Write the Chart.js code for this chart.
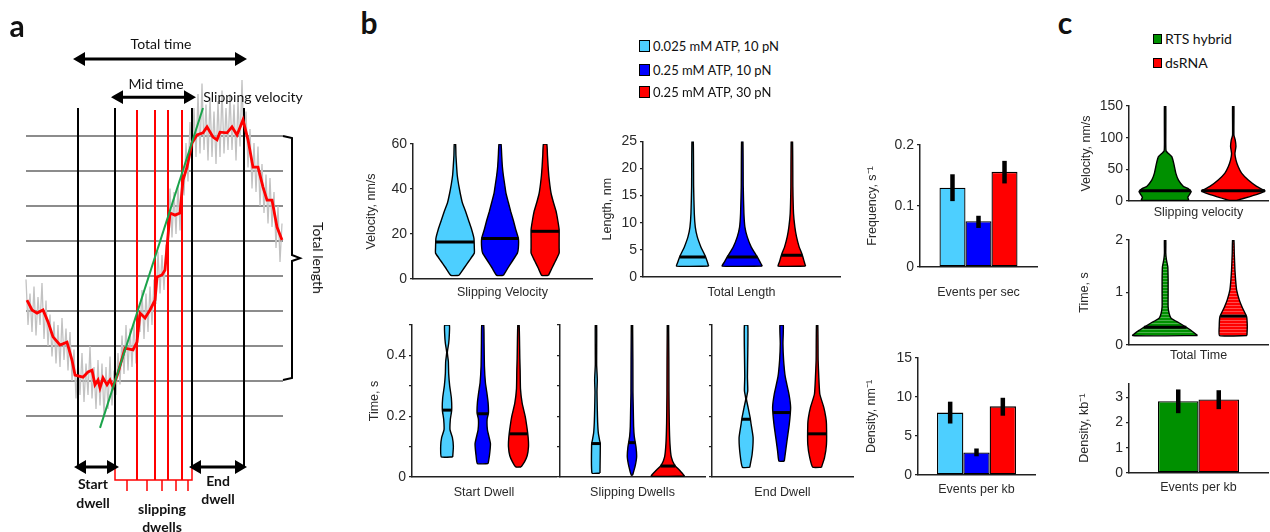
<!DOCTYPE html>
<html>
<head>
<meta charset="utf-8">
<script src="https://cdn.jsdelivr.net/npm/chart.js@4.4.1/dist/chart.umd.min.js"></script>
<style>
body{margin:0;background:#fff;}
#page{position:relative;width:1270px;height:532px;overflow:hidden;font-family:Lato,"Open Sans",sans-serif;color:#111;}
.cv{position:absolute;}
.t{position:absolute;white-space:nowrap;transform:translate(-50%,-50%);font-size:14px;line-height:1;}
.b{font-weight:bold;}
.pl{position:absolute;font:bold 30px Lato,sans-serif;line-height:1;transform:translate(-50%,-50%);}
.leg{position:absolute;white-space:nowrap;line-height:1;transform:translateY(-50%);}
.sq{position:absolute;border:1px solid #000;box-sizing:border-box;}
</style>
</head>
<body>
<div id="page"></div>
<script>
// ---------- groups ----------
const B_GROUPS = ['0.025 mM ATP, 10 pN', '0.25 mM ATP, 10 pN', '0.25 mM ATP, 30 pN'];
const B_COLORS = ['#4dcfff', '#0000ff', '#ff0000'];
const C_GROUPS = ['RTS hybrid', 'dsRNA'];
const C_COLORS = ['#009000', '#ff0000'];

// ---------- panel a (schematic trace), time vs length level ----------
const LEVELS = [0, 1, 2, 3, 4, 5, 6, 7, 8];
const BLACK_T = [52, 89, 166, 218];
const RED_T = [111, 129, 142, 156];
const TRACE_T = [1,6,11,17,22,27,34,41,46,49,57,62,66,69,72,74,77,81,84,87,92,99,107,111,114,119,124,129,131,136,139,141,144,149,154,157,161,166,171,177,181,187,191,194,201,206,211,217,222,227,232,237,241,246,251,256];
const TRACE_L = [3.31,3.03,2.94,3.03,2.69,2.26,2.03,2.11,1.6,1.17,1.11,1.26,1.31,0.89,1.03,0.8,1.09,0.89,1.03,0.83,1.23,1.94,1.89,2.11,2.94,2.8,3.03,3.31,3.97,4.03,4.17,4.83,5.8,5.74,5.8,6.74,7.11,7.8,8.03,8.09,8.26,7.97,7.89,8.11,8.09,8.26,8.03,8.46,7.89,7.11,7.11,6.54,6.17,6.17,5.4,5.03];
// raw (unfiltered) signal, sampled every RAW_DT
const RAW_DT = 2;
const RAW_L = [3.9,2.6,3.5,2.4,3.7,2.3,3.4,2.6,3.8,2.2, 3.3,2.0,2.9,1.7,2.7,1.5,2.6,1.4,2.8,1.6,
  2.5,1.3,2.4,1.0,1.9,0.5,1.6,0.6,1.8,0.4, 1.5,0.6,2.0,0.5,1.4,0.2,1.6,0.3,1.5,0.0,
  1.4,0.2,1.7,0.3,1.3,0.6,1.8,0.9,2.3,1.2, 2.6,1.3,2.5,1.4,2.7,1.5,2.9,2.4,3.6,2.2,
  3.5,2.4,3.7,2.6,3.9,3.2,4.7,3.5,4.6,3.6, 4.9,4.5,6.5,5.1,6.4,5.2,6.6,5.3,7.2,6.3,
  7.8,6.7,8.4,7.2,8.8,7.4,9.2,7.5,9.5,7.6, 8.9,7.3,9.1,7.4,8.7,7.2,9.0,7.4,9.3,7.5,
  8.8,7.6,9.2,7.6,8.9,7.3,9.0,7.7,9.6,7.6, 8.7,7.1,8.2,6.5,7.8,6.4,7.7,6.0,7.2,5.8,
  6.9,5.5,6.8,5.4,6.4,4.8,6.0,4.4,5.5];
const FIT_T = [74, 177];
const FIT_L = [-0.34, 8.8];
const ARROWS = [[51, 217, 10.2], [89, 166, 9.11], [52, 89, -1.457], [167, 217, -1.457]];
const BRACKET_T = [257, 266, 266, 274, 266, 266, 257];
const BRACKET_L = [8.0, 7.94, 4.6, 4.51, 4.43, 1.09, 1.03];
const COMB_TICKS = [101, 121, 136, 150, 162];

// ---------- panel b violins: [value, half width] ----------
const SV_SHAPES = [
  [[1.6,12],[5,28],[8,42],[11.5,58],[14,58],[18,57],[22,50],[26,41],[30,32],[34,22],[38,16],[42,11],[46,7],[50,5],[55,3],[60,2]],
  [[1.6,10],[5,24],[8,37],[11.5,52],[14,55],[18,55],[22,47],[26,40],[30,32],[34,25],[38,18],[42,14],[46,10],[50,7],[55,5],[60,3]],
  [[1.6,10],[5,21],[8,31],[11.5,42],[14,42],[18,42],[22,42],[26,38],[30,33],[34,25],[38,18],[42,14],[46,11],[50,9],[55,7],[60,5]]
];
const SV_MED = [16.5, 18, 21.2];
const SV_TICKS = [0, 20, 40, 60];

const TL_SHAPES = [
  [[2,48],[2.8,44],[3.7,39],[4.6,32],[5.5,25],[7.4,14],[9.2,8],[11.7,5],[16.6,3],[25,2]],
  [[2,60],[2.8,53],[3.7,45],[4.6,36],[5.5,27],[7.4,15],[9.2,8],[11.7,5],[16.6,3],[25,2]],
  [[2,41],[2.8,37],[3.7,33],[4.6,28],[5.5,22],[7.4,14],[9.2,9],[11.7,5],[16.6,3],[25,2]]
];
const TL_MED = [3.7, 3.7, 4.0];
const TL_TICKS = [0, 5, 10, 15, 20, 25];

const SD_SHAPES = [
  [[0.066,17],[0.1,19],[0.13,16],[0.155,9],[0.19,10],[0.22,14],[0.26,13],[0.3,8],[0.34,5],[0.38,4],[0.41,1],[0.44,5],[0.47,7],[0.5,7]],
  [[0.044,16],[0.07,20],[0.11,23],[0.155,14],[0.19,13],[0.21,17],[0.245,16],[0.28,12],[0.31,8],[0.365,5],[0.44,4],[0.5,3]],
  [[0.033,8],[0.05,18],[0.07,26],[0.1,30],[0.13,29],[0.166,25],[0.2,20],[0.243,11],[0.29,6],[0.35,5],[0.39,4],[0.5,2]]
];
const SD_MED = [0.22, 0.208, 0.142];

const SL_SHAPES = [
  [[0.013,12],[0.11,13],[0.12,11],[0.145,7],[0.18,5],[0.22,4],[0.28,3],[0.32,4],[0.37,2],[0.5,2]],
  [[0.006,2],[0.033,9],[0.066,14],[0.1,12],[0.133,7],[0.166,5],[0.22,4],[0.276,3],[0.5,2]],
  [[0.003,50],[0.022,35],[0.039,20],[0.066,10],[0.11,6],[0.177,4],[0.276,3],[0.5,2]]
];
const SL_MED = [0.11, 0.113, 0.036];

const ED_SHAPES = [
  [[0.032,11],[0.074,18],[0.13,21],[0.174,15],[0.196,12],[0.229,6],[0.257,1],[0.284,5],[0.33,4],[0.406,5],[0.5,5]],
  [[0.052,8],[0.085,12],[0.118,16],[0.174,23],[0.229,27],[0.273,22],[0.329,11],[0.384,6],[0.439,4],[0.5,5]],
  [[0.032,13],[0.063,22],[0.107,28],[0.174,28],[0.196,26],[0.229,20],[0.273,8],[0.329,5],[0.384,3],[0.5,2]]
];
const ED_MED = [0.19, 0.212, 0.142];
const DW_TICKS = [0, 0.1, 0.2, 0.3, 0.4, 0.5];
const DW_LABELS = ['0', '', '0.2', '', '0.4', ''];
const DW_BLANK = ['', '', '', '', '', ''];

// ---------- panel b bars ----------
const EPS_VAL = [0.130, 0.075, 0.156];
const EPS_LO = [0.108, 0.064, 0.137];
const EPS_HI = [0.152, 0.084, 0.174];
const EPS_TICKS = [0, 0.1, 0.2];
const EPK_VAL = [8.0, 2.9, 8.8];
const EPK_LO = [6.6, 2.4, 7.6];
const EPK_HI = [9.4, 3.4, 9.9];
const EPK_TICKS = [0, 5, 10, 15];

// ---------- panel c ----------
const CV_SHAPES = [
  [[1,71],[6,68],[11,74],[15,78],[20,68],[23,55],[33,40],[44,32],[59,26],[70,20],[75,10],[79,3],[90,2],[150,2]],
  [[1,10],[7,50],[12,80],[16,95],[23,70],[33,45],[44,25],[54,15],[65,8],[75,5],[86,8],[96,6],[104,2],[150,2]]
];
const CV_MED = [16, 16];
const CV_TICKS = [0, 50, 100, 150];
const CT_SHAPES = [
  [[0.18,97],[0.29,75],[0.41,45],[0.51,18],[0.6,12],[0.73,9],[0.98,9],[1.24,9],[1.49,8],[1.62,4],[1.75,2],[2,2]],
  [[0.18,41],[0.35,42],[0.54,40],[0.7,28],[0.86,18],[1.05,10],[1.24,7],[1.43,5],[1.75,3],[2,2]]
];
const CT_MED = [0.336, 0.55];
const CT_TICKS = [0, 1, 2];
const CK_VAL = [2.84, 2.91];
const CK_LO = [2.37, 2.53];
const CK_HI = [3.31, 3.28];
const CK_TICKS = [0, 1, 2, 3];

// ---------- setup ----------
Chart.defaults.animation = false;
Chart.defaults.responsive = false;
Chart.defaults.devicePixelRatio = 1;
Chart.defaults.events = [];
Chart.defaults.layout.autoPadding = false;
Chart.defaults.plugins.legend.display = false;
Chart.defaults.plugins.tooltip.enabled = false;
Chart.defaults.font.family = '"Liberation Sans", Arial, sans-serif';
Chart.defaults.elements.point.radius = 0;

const page = document.getElementById('page');
const AXIS = '#222', TXT = '#2a2a2a', TICK_SIZE = 14, TITLE_SIZE = 12.5;

function canvasAt(box){
  const c = document.createElement('canvas');
  c.className = 'cv';
  c.width = box[2]-box[0]; c.height = box[3]-box[1];
  c.style.left = box[0]+'px'; c.style.top = box[1]+'px';
  page.appendChild(c);
  return c;
}

const errBars = {
  id:'errBars',
  afterDatasetsDraw(chart){
    const {ctx, scales:{y}} = chart;
    chart.data.datasets.forEach((ds,i)=>{
      if(!ds.lo) return;
      chart.getDatasetMeta(i).data.forEach((bar,j)=>{
        ctx.save(); ctx.strokeStyle='#000'; ctx.lineWidth=4.5; ctx.lineCap='butt';
        ctx.beginPath();
        ctx.moveTo(bar.x, y.getPixelForValue(ds.lo[j]));
        ctx.lineTo(bar.x, y.getPixelForValue(ds.hi[j]));
        ctx.stroke(); ctx.restore();
      });
    });
  }
};

// box / area = [left, top, right, bottom] in page pixels
function makeChart(box, area, o, type, labels, datasets, plugins){
  const lh = TITLE_SIZE*1.2;
  const x = o.cat ? {type:'category'} : {type:'linear', min:o.xr[0], max:o.xr[1]};
  Object.assign(x, {
    ticks:{display:false}, grid:{display:false},
    border:{display:true, color:AXIS, width:1.5},
    title:{display:true, text:o.xTitle, color:TXT, font:{size:TITLE_SIZE}, padding:{top:0, bottom:box[3]-o.xTitleY-lh/2}},
    afterFit(s){ s.height = box[3]-area[3]; }
  });
  const y = {
    type:'linear', min:o.yr[0], max:o.yr[1],
    afterBuildTicks(s){ s.ticks = o.ticks.map(v=>({value:v})); },
    ticks:{color:TXT, font:{size:TICK_SIZE}, padding:3, callback:(v,i)=> o.tickLabels ? o.tickLabels[i] : String(v)},
    grid:{display:true, drawOnChartArea:false, drawTicks:true, tickLength:3, color:AXIS, lineWidth:1.2},
    border:{display:true, color:AXIS, width:1.5},
    title:{display:!!o.yTitle, text:o.yTitle||'', color:TXT, font:{size:TITLE_SIZE}, padding:{top:o.yTitleX ? o.yTitleX-box[0]-lh/2 : 0, bottom:0}},
    afterFit(s){ s.width = area[0]-box[0]; }
  };
  return new Chart(canvasAt(box), {
    type, data:{labels, datasets},
    options:{layout:{padding:{left:0, top:area[1]-box[1], right:box[2]-area[2], bottom:0}}, scales:{x, y}},
    plugins: plugins || []
  });
}

function halfAt(sh, v){
  for(let k=1;k<sh.length;k++){
    if(v<=sh[k][0]){ const [v0,w0]=sh[k-1], [v1,w1]=sh[k]; return w0+(w1-w0)*(v-v0)/(v1-v0); }
  }
  return sh[sh.length-1][1];
}

function violins(shapes, medians, fills, wk){
  const sets = [];
  shapes.forEach((sh,i)=>{
    const c = i+1;
    const right = sh.map(([v,w])=>({x:c+w*wk, y:v}));
    const left = sh.slice().reverse().map(([v,w])=>({x:c-w*wk, y:v}));
    sets.push({data:right.concat(left,[right[0]]), borderColor:'#000', borderWidth:1.4,
      backgroundColor:fills[i], fill:'shape', tension:0.15, order:2});
    const hw = halfAt(sh, medians[i])*wk;
    sets.push({data:[{x:c-hw,y:medians[i]},{x:c+hw,y:medians[i]}], borderColor:'#000', borderWidth:3, fill:false, order:1});
  });
  return sets;
}

function bars(values, lo, hi, colors){
  return values.map((v,i)=>({data:[v], backgroundColor:colors[i], borderColor:'#000', borderWidth:1.3,
    borderSkipped:false, categoryPercentage:1, barPercentage:1, lo:[lo[i]], hi:[hi[i]]}));
}

function stripes(color){
  const p = document.createElement('canvas'); p.width = 4; p.height = 3;
  const g = p.getContext('2d');
  g.fillStyle = color; g.fillRect(0,0,4,3);
  g.fillStyle = 'rgba(255,255,255,0.3)'; g.fillRect(0,2,4,1);
  return g.createPattern(p, 'repeat');
}

// ---------- panel a ----------
(function(){
  const sets = [];
  const line = (pts, color, w, order, extra)=>sets.push(Object.assign({data:pts, borderColor:color, borderWidth:w, fill:false, order}, extra||{}));
  LEVELS.forEach(L=>line([{x:0,y:L},{x:257,y:L}], '#8c8c8c', 2, 10));
  line(RAW_L.map((L,i)=>({x:i*RAW_DT, y:L})), '#c2c2c2', 1.3, 8);
  BLACK_T.forEach(t=>line([{x:t,y:-1.457},{x:t,y:8.8}], '#000', 2, 6));
  RED_T.forEach(t=>line([{x:t,y:-1.83},{x:t,y:8.74}], '#ff0000', 2, 6));
  line([{x:89,y:-1.457},{x:89,y:-1.83},{x:166,y:-1.83},{x:166,y:-1.457}], '#ff0000', 1.5, 6);
  COMB_TICKS.forEach(t=>line([{x:t,y:-1.83},{x:t,y:-2.14}], '#ff0000', 1.5, 6));
  line(TRACE_T.map((t,i)=>({x:t, y:TRACE_L[i]})), '#ff0000', 2.8, 4);
  line(FIT_T.map((t,i)=>({x:t, y:FIT_L[i]})), '#1aa34a', 2, 2);
  line(BRACKET_T.map((t,i)=>({x:t, y:BRACKET_L[i]})), '#000', 2, 2);
  ARROWS.forEach(([t0,t1,L])=>line([{x:t0+4,y:L},{x:t1-4,y:L}], '#000', 3, 1,
    {pointRadius:5, pointStyle:'triangle', pointRotation:[-90,90], pointBackgroundColor:'#000', pointBorderColor:'#000'}));
  new Chart(canvasAt([0,0,340,532]), {
    type:'line', data:{datasets:sets},
    options:{layout:{padding:0, autoPadding:false}, clip:false, scales:{
      x:{type:'linear', display:false, min:-26, max:314},
      y:{type:'linear', display:false, min:-3.314, max:11.886}}}
  });
})();

// ---------- panel b ----------
makeChart([350,130,597,305],[413,144,592,279],
  {xr:[0.07,4.04], yr:[0,60], ticks:SV_TICKS, yTitle:'Velocity, nm/s', yTitleX:372, xTitle:'Slipping Velocity', xTitleY:293},
  'line', [], violins(SV_SHAPES, SV_MED, B_COLORS, 1/135));
makeChart([597,130,845,305],[643,141,840,277],
  {xr:[0,3.97], yr:[0,25], ticks:TL_TICKS, yTitle:'Length, nm', yTitleX:608, xTitle:'Total Length', xTitleY:293},
  'line', [], violins(TL_SHAPES, TL_MED, B_COLORS, 1/148.5));
makeChart([850,130,1045,305],[920,145,1037,267],
  {cat:true, yr:[0,0.2], ticks:EPS_TICKS, yTitle:'Frequency, s⁻¹', yTitleX:873, xTitle:'Events per sec', xTitleY:293},
  'bar', [''], bars(EPS_VAL, EPS_LO, EPS_HI, B_COLORS).map(d=>Object.assign(d,{categoryPercentage:0.667})), [errBars]);
makeChart([355,312,558,505],[412,325,556,477],
  {xr:[0.02,4.05], yr:[0,0.5], ticks:DW_TICKS, tickLabels:DW_LABELS, yTitle:'Time, s', yTitleX:375, xTitle:'Start Dwell', xTitleY:493},
  'line', [], violins(SD_SHAPES, SD_MED, B_COLORS, 1/107));
makeChart([548,312,708,505],[560,325,705,477],
  {xr:[0,4.03], yr:[0,0.5], ticks:DW_TICKS, tickLabels:DW_BLANK, xTitle:'Slipping Dwells', xTitleY:493},
  'line', [], violins(SL_SHAPES, SL_MED, B_COLORS, 1/108));
makeChart([700,312,858,505],[712,325,853,477],
  {xr:[0.04,4.01], yr:[0,0.5], ticks:DW_TICKS, tickLabels:DW_BLANK, xTitle:'End Dwell', xTitleY:493},
  'line', [], violins(ED_SHAPES, ED_MED, B_COLORS, 1/106.5));
makeChart([850,340,1045,505],[918,358,1035,475],
  {cat:true, yr:[0,15], ticks:EPK_TICKS, yTitle:'Density, nm⁻¹', yTitleX:872, xTitle:'Events per kb', xTitleY:490},
  'bar', [''], bars(EPK_VAL, EPK_LO, EPK_HI, B_COLORS).map(d=>Object.assign(d,{categoryPercentage:0.675})), [errBars]);

// ---------- panel c ----------
makeChart([1070,90,1270,225],[1129,106,1268,201],
  {xr:[0.47,2.51], yr:[0,150], ticks:CV_TICKS, yTitle:'Velocity, nm/s', yTitleX:1087, xTitle:'Slipping velocity', xTitleY:213},
  'line', [], violins(CV_SHAPES, CV_MED, C_COLORS, 1/204));
makeChart([1070,228,1270,368],[1129,240,1268,345],
  {xr:[0.47,2.51], yr:[0,2], ticks:CT_TICKS, yTitle:'Time, s', yTitleX:1085, xTitle:'Total Time', xTitleY:356},
  'line', [], violins(CT_SHAPES, CT_MED, C_COLORS.map(stripes), 1/204));
makeChart([1070,372,1270,500],[1129,383,1268,473],
  {cat:true, yr:[0,3.55], ticks:CK_TICKS, yTitle:'Density, kb⁻¹', yTitleX:1085, xTitle:'Events per kb', xTitleY:488},
  'bar', [''], bars(CK_VAL, CK_LO, CK_HI, C_COLORS).map(d=>Object.assign(d,{categoryPercentage:0.583})), [errBars]);

// ---------- text ----------
function text(s, x, y, cls, style){
  const d = document.createElement('div');
  d.className = cls || 't';
  d.textContent = s;
  d.style.left = x+'px'; d.style.top = y+'px';
  if(style) Object.assign(d.style, style);
  page.appendChild(d);
}
text('a', 17, 25, 'pl'); text('b', 369, 22, 'pl'); text('c', 1065, 22, 'pl');
text('Total time', 161, 44); text('Mid time', 156, 84); text('Slipping velocity', 253, 97);
text('Total length', 318, 258, 't', {transform:'translate(-50%,-50%) rotate(90deg)'});
text('Start', 93, 484, 't b'); text('dwell', 93, 503, 't b');
text('End', 218, 481, 't b'); text('dwell', 218, 499, 't b');
text('slipping', 162, 509, 't b'); text('dwells', 162, 527, 't b');

function legend(names, colors, x, ys, sq, size){
  names.forEach((n,i)=>{
    const s = document.createElement('div'); s.className = 'sq';
    Object.assign(s.style, {left:x+'px', top:(ys[i]-sq[1]/2)+'px', width:sq[0]+'px', height:sq[1]+'px', background:colors[i]});
    page.appendChild(s);
    text(n, x+sq[0]+3, ys[i], 'leg', {fontSize:size+'px'});
  });
}
legend(B_GROUPS, B_COLORS, 639, [46, 70, 92], [11, 12], 13);
legend(C_GROUPS, C_COLORS, 1153, [39, 63], [9, 10], 14);
</script>
</body>
</html>
